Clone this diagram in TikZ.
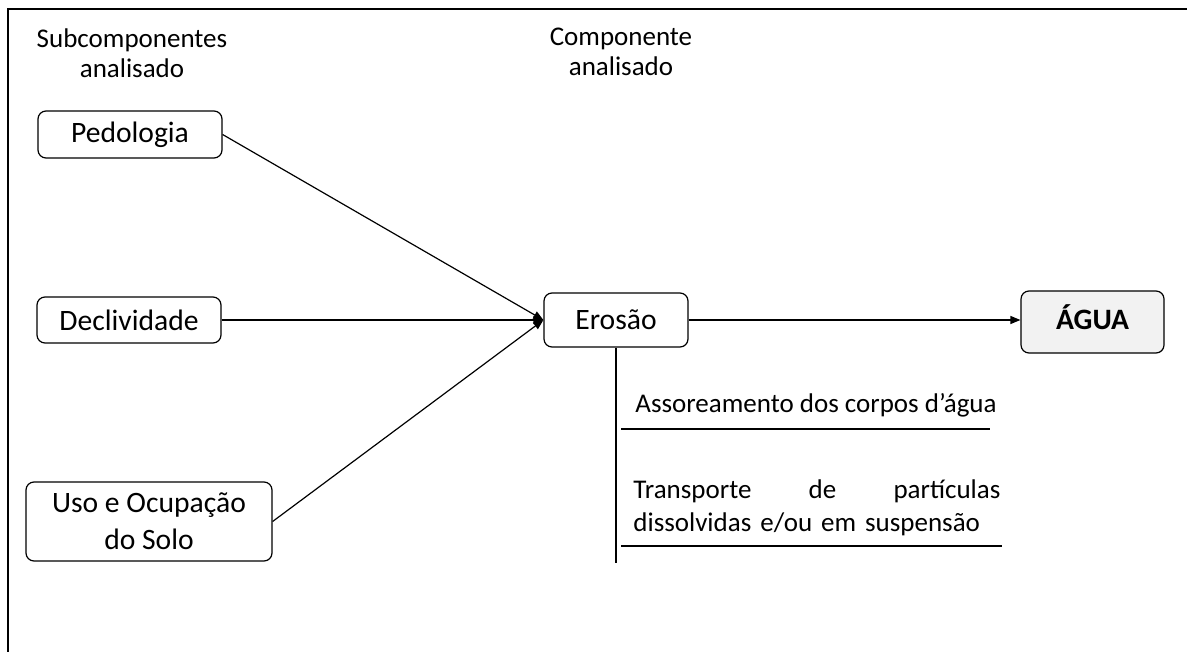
\documentclass[tikz,border=0pt]{standalone}
\usepackage{fontspec}
\setmainfont{Carlito}
\usepackage{xcolor}
\usepackage{tikz}
\usetikzlibrary{arrows.meta, positioning}

\definecolor{boxgray}{HTML}{F2F2F2}

\tikzset{
    item/.style={draw, line width=0.6pt, rounded corners=4pt, align=center,
        font=\fontsize{14.8}{18.5}\selectfont, inner sep=2pt},
    head/.style={align=center, font=\fontsize{13.5}{15}\selectfont},
    effect/.style={font=\fontsize{13.5}{16.5}\selectfont, inner sep=0pt},
    flow/.style={line width=0.6pt, -{Triangle[length=5pt, width=4pt]}}
}

\begin{document}
\begin{tikzpicture}[x=0.5pt, y=-0.5pt]

    \useasboundingbox (0,0) rectangle (1187,652);

    % Frame
    \draw[line width=1pt] (8,652) -- (8,9) -- (1187,9);

    % Headings
    \node[head] (subhead) at (132,53) {Subcomponentes\\analisado};
    \node[head] (comphead) at (621,52) {Componente\\analisado};

    % Subcomponents
    \node[item, minimum width=92pt, minimum height=23.5pt] (pedologia) at (130,134.5) {Pedologia};
    \node[item, minimum width=92pt, minimum height=23pt] (declividade) at (129,320) {Declividade};
    \node[item, minimum width=123pt, minimum height=39.5pt] (uso) at (149,521.5) {Uso e Ocupação\\do Solo};

    % Component and target
    \node[item, minimum width=72pt, minimum height=27pt] (erosao) at (616,320) {Erosão};
    \node[item, fill=boxgray, minimum width=71.5pt, minimum height=31pt,
        text height=7.3pt, text depth=0pt,
        font=\fontsize{14.8}{18}\selectfont\bfseries] (agua) at (1092.5,322) {ÁGUA};

    % Arrows into Erosao
    \draw[flow] (pedologia.east) -- (erosao.west);
    \draw[flow] (declividade.east) -- (erosao.west);
    \draw[flow] (uso.east) -- (erosao.west);

    % Arrow to water
    \draw[flow] (erosao.east) -- (erosao.east -| agua.west);

    % Effects
    \coordinate (stem) at (616,563);
    \draw[line width=0.6pt] (erosao.south) -- (stem);

    \node[effect, anchor=west] (assoreamento) at (635,405) {Assoreamento dos corpos d’água};
    \coordinate (rule1a) at (621,429);
    \coordinate (rule1b) at (990,429);
    \draw[line width=0.6pt] (rule1a) -- (rule1b);

    \node[effect, text width=183.5pt, align=left, anchor=west] (transporte) at (633,508)
        {Transporte \hfill de \hfill partículas\\dissolvidas e/ou em suspensão};
    \coordinate (rule2a) at (621,546);
    \coordinate (rule2b) at (1002,546);
    \draw[line width=0.6pt] (rule2a) -- (rule2b);

\end{tikzpicture}
\end{document}
